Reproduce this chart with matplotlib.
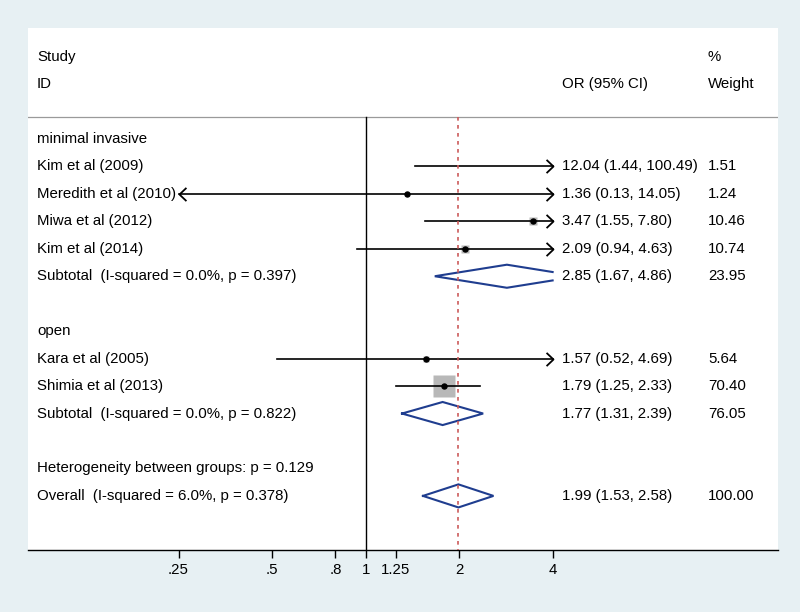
import numpy as np
import matplotlib.pyplot as plt
from matplotlib.path import Path
from matplotlib.transforms import blended_transform_factory

plt.rcParams["font.family"] = ["Liberation Sans", "DejaVu Sans"]

# study rows
studies = ["Kim et al (2009)", "Meredith et al (2010)", "Miwa et al (2012)",
           "Kim et al (2014)", "Kara et al (2005)", "Shimia et al (2013)"]
study_or = [12.04, 1.36, 3.47, 2.09, 1.57, 1.79]
study_lo = [1.44, 0.13, 1.55, 0.94, 0.52, 1.25]
study_hi = [100.49, 14.05, 7.80, 4.63, 4.69, 2.33]
study_wt = [1.51, 1.24, 10.46, 10.74, 5.64, 70.40]
study_row = [1, 2, 3, 4, 8, 9]

# pooled rows
pooled_labels = ["Subtotal  (I-squared = 0.0%, p = 0.397)",
                 "Subtotal  (I-squared = 0.0%, p = 0.822)",
                 "Overall  (I-squared = 6.0%, p = 0.378)"]
pooled_or = [2.85, 1.77, 1.99]
pooled_lo = [1.67, 1.31, 1.53]
pooled_hi = [4.86, 2.39, 2.58]
pooled_wt = [23.95, 76.05, 100.00]
pooled_row = [5, 10, 13]

# plain text rows
extra_labels = ["minimal invasive", "open", "Heterogeneity between groups: p = 0.129"]
extra_row = [0, 7, 12]

tick_vals = [0.25, 0.5, 0.8, 1, 1.25, 2, 4]
tick_labels = [".25", ".5", ".8", "1", "1.25", "2", "4"]

XMIN, XMAX = 0.25, 4.0
overall = pooled_or[-1]

FS = 10.8
NAVY = "#1f3d8f"

fig = plt.figure(figsize=(8, 6.12), dpi=100)
fig.patch.set_facecolor("#e7f0f3")
ax = fig.add_axes([28 / 800, 62 / 612, 750 / 800, 522 / 612])
ax.set_facecolor("white")
ax.set_xscale("log")
ax.set_xlim(0.0819, 21.26)
ax.set_ylim(14.97, -4.04)

for s in ["top", "right", "left"]:
    ax.spines[s].set_visible(False)
ax.spines["bottom"].set_linewidth(1.0)
ax.set_yticks([])
ax.set_xticks(tick_vals)
ax.set_xticklabels(tick_labels, fontsize=FS)
ax.minorticks_off()
ax.tick_params(axis="x", length=6, width=1.0, pad=3)

sep = -0.8
ax.axhline(sep, color="#9a9a9a", lw=0.9)
ax.plot([1, 1], [sep, 14.97], color="black", lw=1.0, zorder=2)
ax.plot([overall, overall], [sep, 14.97], color="#cc5b5b", lw=1.2,
        linestyle=(0, (2.2, 2.6)), zorder=4)

right_chev = Path([(-1.05, 1), (0, 0), (-1.05, -1)],
                  [Path.MOVETO, Path.LINETO, Path.LINETO])
left_chev = Path([(1.05, 1), (0, 0), (1.05, -1)],
                 [Path.MOVETO, Path.LINETO, Path.LINETO])

# studies
for est, lo, hi, wt, r in zip(study_or, study_lo, study_hi, study_wt, study_row):
    x0, x1 = max(lo, XMIN), min(hi, XMAX)
    if XMIN <= est <= XMAX:
        side = 21.7 * np.sqrt(wt / 70.4) * 0.72
        ax.plot([est], [r], marker="s", ms=side, mfc="#b8b8b8", mec="none",
                ls="none", zorder=2)
    ax.plot([x0, x1], [r, r], color="black", lw=1.2, zorder=3)
    if hi > XMAX:
        ax.plot([x1], [r], marker=right_chev, ms=10, mfc="none", mec="black",
                mew=1.3, ls="none", zorder=3)
    if lo < XMIN:
        ax.plot([x0], [r], marker=left_chev, ms=10, mfc="none", mec="black",
                mew=1.3, ls="none", zorder=3)
    if XMIN <= est <= XMAX:
        ax.plot([est], [r], marker="o", ms=3.6, color="black", ls="none", zorder=5)

# diamonds
h = 0.42
for est, lo, hi, r in zip(pooled_or, pooled_lo, pooled_hi, pooled_row):
    if hi > XMAX:
        frac = np.log(hi / XMAX) / np.log(hi / est)
        xs = [XMAX, est, lo, est, XMAX]
        ys = [r - h * frac, r - h, r, r + h, r + h * frac]
    else:
        xs = [lo, est, hi, est, lo]
        ys = [r, r - h, r, r + h, r]
    ax.plot(xs, ys, color=NAVY, lw=1.5, zorder=3, solid_joinstyle="miter")

# text columns
tr = blended_transform_factory(fig.transFigure, ax.transData)
X_LAB, X_OR, X_WT = 37 / 800, 562 / 800, 708 / 800

ax.text(X_LAB, -3, "Study", transform=tr, fontsize=FS, va="center")
ax.text(X_LAB, -2, "ID", transform=tr, fontsize=FS, va="center")
ax.text(X_OR, -2, "OR (95% CI)", transform=tr, fontsize=FS, va="center")
ax.text(X_WT, -3, "%", transform=tr, fontsize=FS, va="center")
ax.text(X_WT, -2, "Weight", transform=tr, fontsize=FS, va="center")

for lab, r in zip(extra_labels, extra_row):
    ax.text(X_LAB, r, lab, transform=tr, fontsize=FS, va="center")

for lab, est, lo, hi, wt, r in zip(studies, study_or, study_lo, study_hi, study_wt, study_row):
    ax.text(X_LAB, r, lab, transform=tr, fontsize=FS, va="center")
    ax.text(X_OR, r, f"{est:.2f} ({lo:.2f}, {hi:.2f})", transform=tr, fontsize=FS, va="center")
    ax.text(X_WT, r, f"{wt:.2f}", transform=tr, fontsize=FS, va="center")

for lab, est, lo, hi, wt, r in zip(pooled_labels, pooled_or, pooled_lo, pooled_hi, pooled_wt, pooled_row):
    ax.text(X_LAB, r, lab, transform=tr, fontsize=FS, va="center")
    ax.text(X_OR, r, f"{est:.2f} ({lo:.2f}, {hi:.2f})", transform=tr, fontsize=FS, va="center")
    ax.text(X_WT, r, f"{wt:.2f}", transform=tr, fontsize=FS, va="center")

fig.savefig("out.png", dpi=100, facecolor=fig.get_facecolor())
